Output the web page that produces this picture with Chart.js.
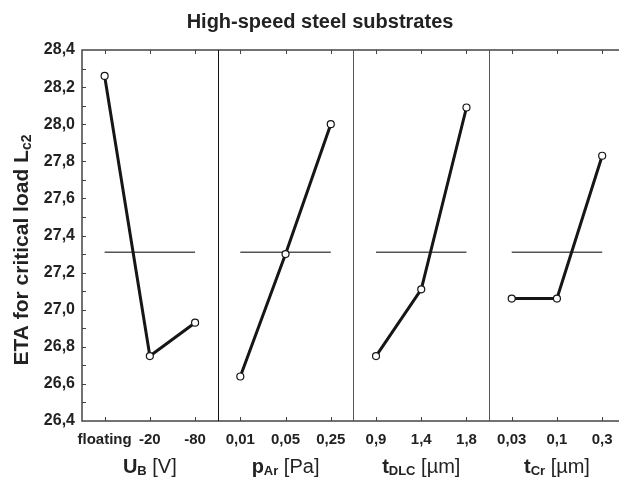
<!DOCTYPE html>
<html>
<head>
<meta charset="utf-8">
<script src="https://cdn.jsdelivr.net/npm/chart.js@4"></script>
<style>
  body { margin: 0; overflow: hidden; background: #fff; }
</style>
</head>
<body>
<canvas id="etaChart" width="630" height="486"></canvas>
<script>
// levels of each factor, left to right
const levelLabels = ['floating', '-20', '-80', '0,01', '0,05', '0,25', '0,9', '1,4', '1,8', '0,03', '0,1', '0,3'];
const ubValues = [28.26, 26.75, 26.93];
const parValues = [26.64, 27.30, 28.00];
const tdlcValues = [26.75, 27.11, 28.09];
const tcrValues = [27.06, 27.06, 27.83];
const meanEta = 27.31;
const yMin = 26.4;
const yMax = 28.4;

const panels = [ubValues, parValues, tdlcValues, tcrValues];
const factorTitles = [
  [['U', 'b'], ['B', 's'], [' [V]', 'n']],
  [['p', 'b'], ['Ar', 's'], [' [Pa]', 'n']],
  [['t', 'b'], ['DLC', 's'], [' [\u00b5m]', 'n']],
  [['t', 'b'], ['Cr', 's'], [' [\u00b5m]', 'n']]
];

const FONT = '"Liberation Sans", Arial, sans-serif';
let fonts = {
  b: 'bold 20px ' + FONT,
  s: 'bold 13px ' + FONT,
  n: '20px ' + FONT
};

function drawRich(ctx, parts, cx, cy, subDy) {
  let total = 0;
  parts.forEach(p => { ctx.font = fonts[p[1]]; total += ctx.measureText(p[0]).width; });
  let x = cx - total / 2;
  ctx.textBaseline = 'middle';
  ctx.textAlign = 'left';
  parts.forEach(p => {
    ctx.font = fonts[p[1]];
    ctx.fillText(p[0], x, cy + (p[1] === 's' ? subDy : 0));
    x += ctx.measureText(p[0]).width;
  });
}

const datasets = [];
panels.forEach((vals, p) => {
  datasets.push({
    data: vals.map((v, i) => ({ x: p * 3 + i, y: v })),
    borderColor: '#161616',
    borderWidth: 3,
    pointRadius: 3.5,
    pointBackgroundColor: '#fff',
    pointBorderColor: '#161616',
    pointBorderWidth: 1.2
  });
});
panels.forEach((vals, p) => {
  datasets.push({
    data: [{ x: p * 3, y: meanEta }, { x: p * 3 + 2, y: meanEta }],
    borderColor: '#555',
    borderWidth: 1.5,
    pointRadius: 0
  });
});

const framePlugin = {
  id: 'frame',
  beforeDatasetsDraw(chart) {
    const { ctx, chartArea: a, scales } = chart;
    ctx.save();
    ctx.strokeStyle = '#444';
    ctx.lineWidth = 1.5;
    ctx.strokeRect(a.left, a.top, a.right - a.left, a.bottom - a.top);
    // panel dividers
    ctx.lineWidth = 1;
    [2.5, 5.5, 8.5].forEach((v, i) => {
      const x = Math.round(scales.x.getPixelForValue(v)) + 0.5;
      ctx.strokeStyle = i === 0 ? '#111' : '#555';
      ctx.beginPath();
      ctx.moveTo(x, a.top);
      ctx.lineTo(x, a.bottom);
      ctx.stroke();
    });
    // inward tick marks
    ctx.strokeStyle = '#444';
    ctx.lineWidth = 1;
    levelLabels.forEach((_, i) => {
      const x = Math.round(scales.x.getPixelForValue(i)) + 0.5;
      ctx.beginPath();
      ctx.moveTo(x, a.top);
      ctx.lineTo(x, a.top + 4);
      ctx.moveTo(x, a.bottom);
      ctx.lineTo(x, a.bottom - 4);
      ctx.stroke();
    });
    for (let k = 1; k < 20; k++) {
      const y = Math.round(scales.y.getPixelForValue(yMin + k * 0.1)) + 0.5;
      ctx.beginPath();
      ctx.moveTo(a.left, y);
      ctx.lineTo(a.left + 4, y);
      ctx.stroke();
    }
    ctx.restore();
  },
  afterDraw(chart) {
    const { ctx, chartArea: a, scales } = chart;
    ctx.save();
    ctx.fillStyle = '#222';
    ctx.textAlign = 'center';
    ctx.textBaseline = 'middle';
    ctx.font = 'bold 20px ' + FONT;
    ctx.fillText('High-speed steel substrates', 320, 22);
    factorTitles.forEach((parts, p) => {
      drawRich(ctx, parts, scales.x.getPixelForValue(p * 3 + 1), 467, 4);
    });
    ctx.translate(22, 250);
    ctx.rotate(-Math.PI / 2);
    fonts = { b: 'bold 21px ' + FONT, s: 'bold 14px ' + FONT, n: '21px ' + FONT };
    drawRich(ctx, [['ETA for critical load L', 'b'], ['c2', 's']], 0, 0, 5);
    fonts = { b: 'bold 20px ' + FONT, s: 'bold 13px ' + FONT, n: '20px ' + FONT };
    ctx.restore();
  }
};

new Chart(document.getElementById('etaChart'), {
  type: 'line',
  data: { datasets: datasets },
  options: {
    responsive: false,
    animation: false,
    layout: { padding: { top: 50, right: 4, bottom: 0, left: 0 } },
    plugins: { legend: { display: false }, tooltip: { enabled: false } },
    scales: {
      x: {
        type: 'linear',
        min: -0.5,
        max: 11.5,
        afterBuildTicks: s => { s.ticks = levelLabels.map((_, i) => ({ value: i })); },
        afterFit: s => { s.height = 65; },
        grid: { display: false, drawTicks: false },
        border: { display: false },
        ticks: {
          autoSkip: false,
          maxRotation: 0,
          padding: 10,
          color: '#222',
          font: { family: FONT, size: 15, weight: 'bold' },
          callback: v => levelLabels[v]
        }
      },
      y: {
        min: yMin,
        max: yMax,
        afterFit: s => { s.width = 82; },
        grid: { display: false, drawTicks: false },
        border: { display: false },
        ticks: {
          stepSize: 0.2,
          padding: 7,
          color: '#222',
          font: { family: FONT, size: 16, weight: 'bold' },
          callback: v => v.toFixed(1).replace('.', ',')
        }
      }
    }
  },
  plugins: [framePlugin]
});
</script>
</body>
</html>
